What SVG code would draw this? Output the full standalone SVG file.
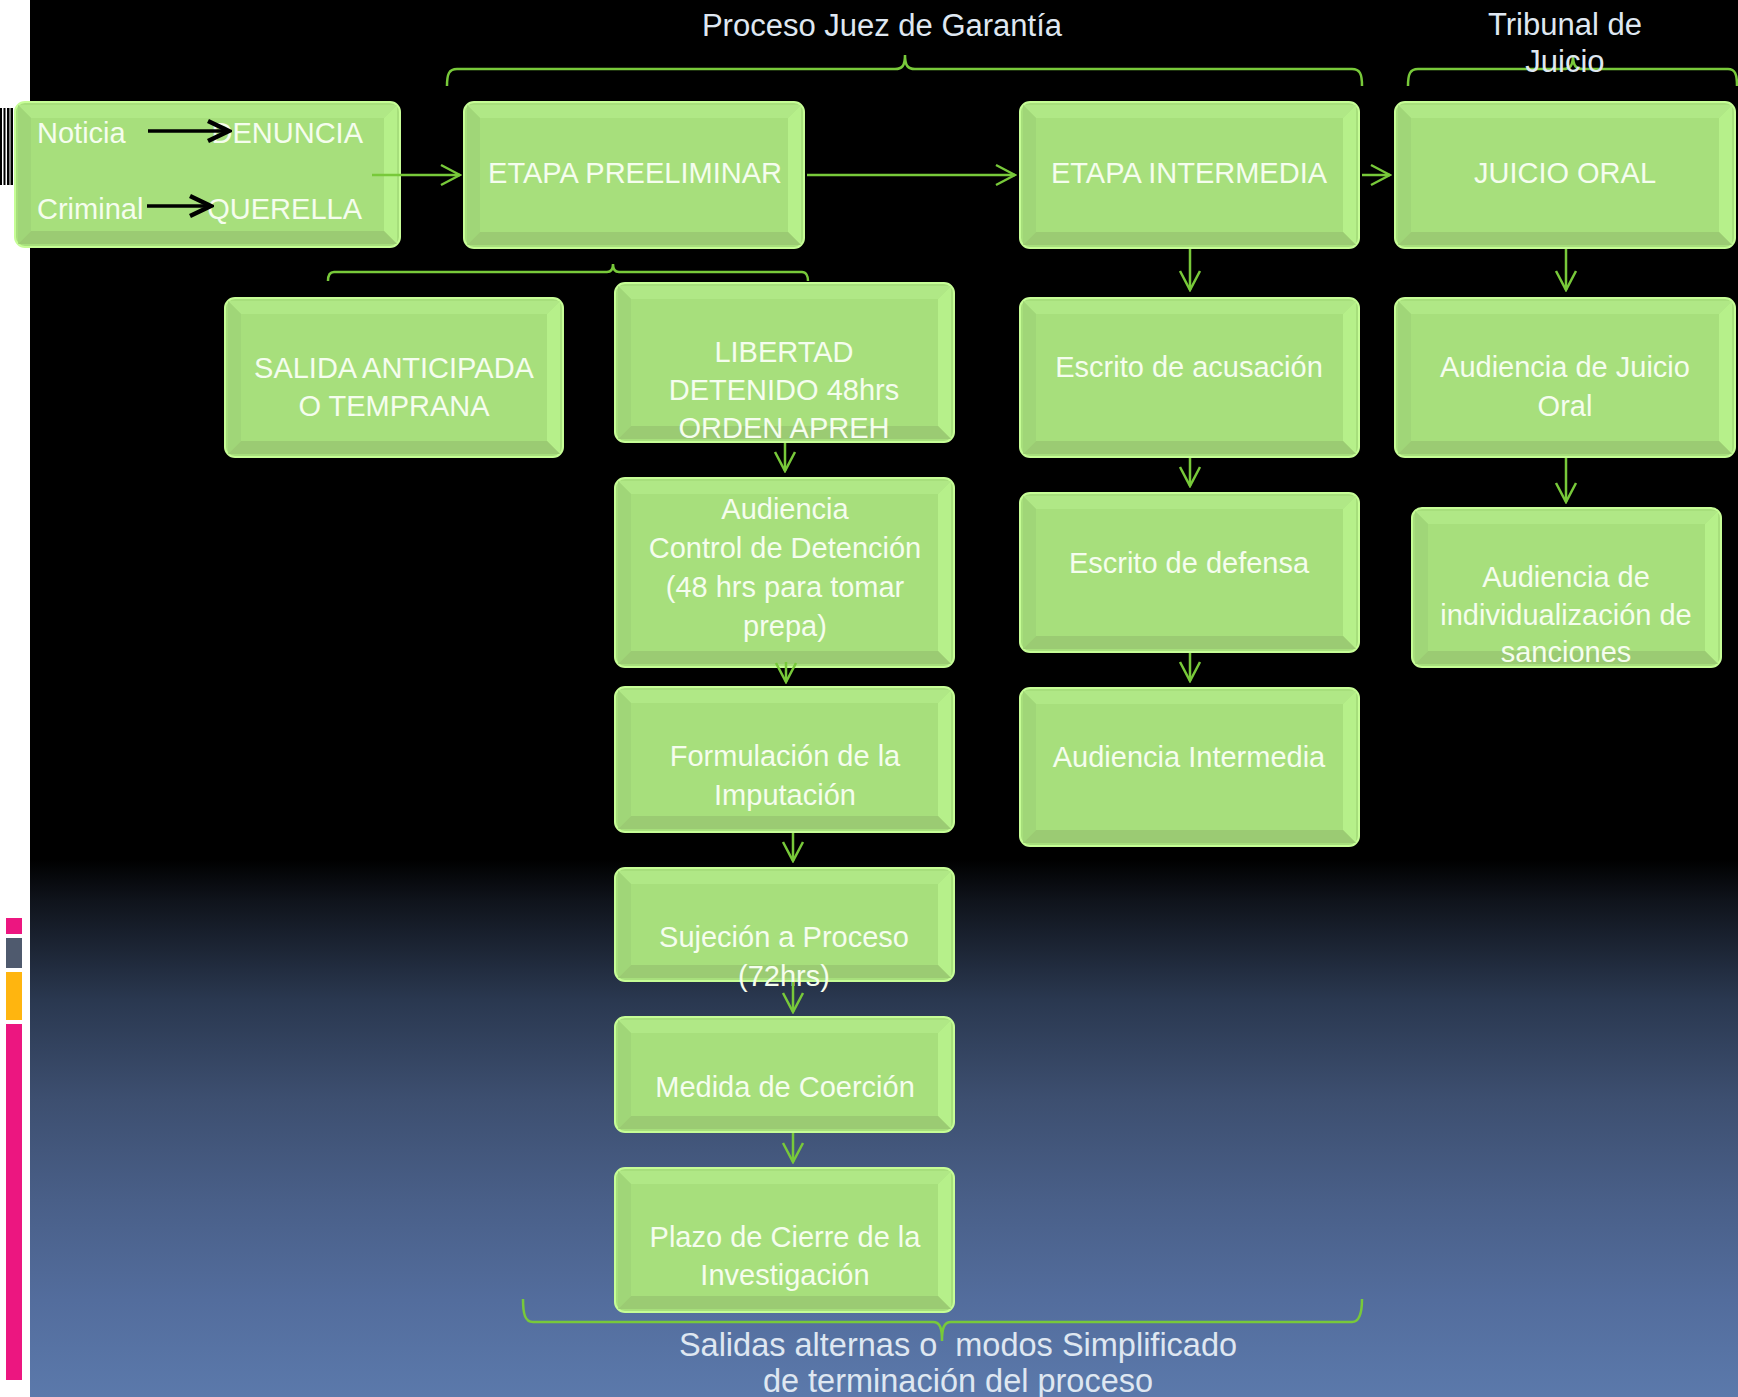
<svg xmlns="http://www.w3.org/2000/svg" width="1738" height="1397" viewBox="0 0 1738 1397">
<defs>
<linearGradient id="bg" x1="0" y1="0" x2="0" y2="1397" gradientUnits="userSpaceOnUse">
<stop offset="0" stop-color="#000"/>
<stop offset="0.615" stop-color="#000"/>
<stop offset="0.644" stop-color="#0f131b"/>
<stop offset="0.716" stop-color="#2a3850"/>
<stop offset="0.787" stop-color="#3d4f70"/>
<stop offset="0.859" stop-color="#495f88"/>
<stop offset="0.931" stop-color="#536d9d"/>
<stop offset="1" stop-color="#5b79ab"/>
</linearGradient>
<marker id="ah" markerUnits="userSpaceOnUse" viewBox="-22 -12 24 24" markerWidth="24" markerHeight="24" refX="0" refY="0" orient="auto">
<path d="M-19,-10 L0,0 L-19,10" fill="none" stroke="#78c93a" stroke-width="2.5"/>
</marker>
<marker id="bh" markerUnits="userSpaceOnUse" viewBox="-26 -14 28 28" markerWidth="28" markerHeight="28" refX="0" refY="0" orient="auto">
<path d="M-22,-10 L-1,0 L-22,10" fill="none" stroke="#000" stroke-width="4.5"/>
</marker>
<style>
.edge{fill:#a7df7c;stroke:#c6fd96;stroke-width:2}
.bt{fill:#b0e886}
.bl{fill:#a0d678}
.br{fill:#b6f08a}
.bb{fill:#9bcb73}
.t{font-family:"Liberation Sans",Arial,sans-serif;font-size:29px;fill:#f5fdee;text-anchor:middle}
.tl{text-anchor:start}
.te{text-anchor:end}
.title{font-family:"Liberation Sans",Arial,sans-serif;font-size:31px;fill:#dfe7f1;text-anchor:middle}
.big{font-size:32.5px}
.conn line{stroke:#78c93a;stroke-width:2.5;marker-end:url(#ah)}
.brace{fill:none;stroke:#78c93a;stroke-width:2.5}
.blk{stroke:#000;stroke-width:3.5;marker-end:url(#bh)}
</style>
</defs>

<rect x="0" y="0" width="1738" height="1397" fill="#fff"/>
<rect x="30" y="0" width="1708" height="1397" fill="url(#bg)"/>
<g id="sidebar">
<rect x="0" y="108" width="2" height="77" fill="#000"/>
<rect x="3.5" y="108" width="2" height="77" fill="#000"/>
<rect x="7" y="108" width="2.5" height="77" fill="#000"/>
<rect x="10.5" y="108" width="2.5" height="77" fill="#000"/>
<rect x="6" y="918" width="16" height="16" fill="#ec1680"/>
<rect x="6" y="938" width="16" height="30" fill="#4f5a6e"/>
<rect x="6" y="972" width="16" height="48" fill="#ffb50f"/>
<rect x="6" y="1024" width="16" height="356" fill="#ec1680"/>
</g>

<g id="braces">
<path class="brace" d="M447,86 C447,74 449,69 457,69 L895,69 C902,69 905,66 905,55 C905,66 908,69 915,69 L1352,69 C1360,69 1362,74 1362,86"/>
<path class="brace" d="M1408,86 C1408,74 1410,69 1418,69 L1563,69 C1570,69 1573,66 1573,55 C1573,66 1576,69 1583,69 L1728,69 C1735,69 1737,74 1737,86"/>
<path class="brace" d="M328,281 C328,276 329,272 334,272 L607,272 C611,272 613,270 613,264 C613,270 615,272 619,272 L802,272 C806,272 808,276 808,281"/>
<path class="brace" d="M523,1299 C523,1314 525,1322 533,1322 L933,1322 C940,1322 942,1328 942,1341 C942,1328 944,1322 951,1322 L1352,1322 C1359,1322 1362,1314 1362,1299"/>
</g>

<g id="labels">
<text class="title" x="882" y="36">Proceso Juez de Garantía</text>
<text class="title" x="1565" y="35">Tribunal de</text>
<text class="title" x="1565" y="72">Juicio</text>
<text class="title big" x="958" y="1356" xml:space="preserve">Salidas alternas o  modos Simplificado</text>
<text class="title big" x="958" y="1392">de terminación del proceso</text>
</g>

<g id="n1" transform="translate(14,101)">
<rect class="edge" x="1" y="1" width="385" height="145" rx="10"/>
<polygon class="bt" points="4,4 383,4 370,17 17,17"/>
<polygon class="bl" points="4,4 17,17 17,130 4,143"/>
<polygon class="br" points="383,4 370,17 370,130 383,143"/>
<polygon class="bb" points="4,143 383,143 370,130 17,130"/>
<text class="t tl" x="23" y="42">Noticia</text>
<text class="t te" x="349" y="42">DENUNCIA</text>
<text class="t tl" x="23" y="118">Criminal</text>
<text class="t te" x="348" y="118">QUERELLA</text>
<line class="blk" x1="134" y1="30" x2="216" y2="30"/>
<line class="blk" x1="133" y1="105" x2="198" y2="105"/>
</g>

<g id="n2" transform="translate(463,101)">
<rect class="edge" x="1" y="1" width="340" height="146" rx="10"/>
<polygon class="bt" points="4,4 338,4 325,17 17,17"/>
<polygon class="bl" points="4,4 17,17 17,131 4,144"/>
<polygon class="br" points="338,4 325,17 325,131 338,144"/>
<polygon class="bb" points="4,144 338,144 325,131 17,131"/>
<text class="t" x="172" y="82">ETAPA PREELIMINAR</text>
</g>

<g id="n3" transform="translate(1019,101)">
<rect class="edge" x="1" y="1" width="339" height="146" rx="10"/>
<polygon class="bt" points="4,4 337,4 324,17 17,17"/>
<polygon class="bl" points="4,4 17,17 17,131 4,144"/>
<polygon class="br" points="337,4 324,17 324,131 337,144"/>
<polygon class="bb" points="4,144 337,144 324,131 17,131"/>
<text class="t" x="170" y="82">ETAPA INTERMEDIA</text>
</g>

<g id="n4" transform="translate(1394,101)">
<rect class="edge" x="1" y="1" width="340" height="146" rx="10"/>
<polygon class="bt" points="4,4 338,4 325,17 17,17"/>
<polygon class="bl" points="4,4 17,17 17,131 4,144"/>
<polygon class="br" points="338,4 325,17 325,131 338,144"/>
<polygon class="bb" points="4,144 338,144 325,131 17,131"/>
<text class="t" x="171" y="82">JUICIO ORAL</text>
</g>

<g id="n5" transform="translate(224,297)">
<rect class="edge" x="1" y="1" width="338" height="159" rx="10"/>
<polygon class="bt" points="4,4 336,4 323,17 17,17"/>
<polygon class="bl" points="4,4 17,17 17,144 4,157"/>
<polygon class="br" points="336,4 323,17 323,144 336,157"/>
<polygon class="bb" points="4,157 336,157 323,144 17,144"/>
<text class="t" x="170" y="81">SALIDA ANTICIPADA</text>
<text class="t" x="170" y="119">O TEMPRANA</text>
</g>

<g id="n6" transform="translate(614,282)">
<rect class="edge" x="1" y="1" width="339" height="159" rx="10"/>
<polygon class="bt" points="4,4 337,4 324,17 17,17"/>
<polygon class="bl" points="4,4 17,17 17,144 4,157"/>
<polygon class="br" points="337,4 324,17 324,144 337,157"/>
<polygon class="bb" points="4,157 337,157 324,144 17,144"/>
<text class="t" x="170" y="80">LIBERTAD</text>
<text class="t" x="170" y="118">DETENIDO 48hrs</text>
<text class="t" x="170" y="156">ORDEN APREH</text>
</g>

<g id="n7" transform="translate(614,477)">
<rect class="edge" x="1" y="1" width="339" height="189" rx="10"/>
<polygon class="bt" points="4,4 337,4 324,17 17,17"/>
<polygon class="bl" points="4,4 17,17 17,174 4,187"/>
<polygon class="br" points="337,4 324,17 324,174 337,187"/>
<polygon class="bb" points="4,187 337,187 324,174 17,174"/>
<text class="t" x="171" y="42">Audiencia</text>
<text class="t" x="171" y="81">Control de Detención</text>
<text class="t" x="171" y="120">(48 hrs para tomar</text>
<text class="t" x="171" y="159">prepa)</text>
</g>

<g id="n8" transform="translate(614,686)">
<rect class="edge" x="1" y="1" width="339" height="145" rx="10"/>
<polygon class="bt" points="4,4 337,4 324,17 17,17"/>
<polygon class="bl" points="4,4 17,17 17,130 4,143"/>
<polygon class="br" points="337,4 324,17 324,130 337,143"/>
<polygon class="bb" points="4,143 337,143 324,130 17,130"/>
<text class="t" x="171" y="80">Formulación de la</text>
<text class="t" x="171" y="119">Imputación</text>
</g>

<g id="n9" transform="translate(614,867)">
<rect class="edge" x="1" y="1" width="339" height="113" rx="10"/>
<polygon class="bt" points="4,4 337,4 324,17 17,17"/>
<polygon class="bl" points="4,4 17,17 17,98 4,111"/>
<polygon class="br" points="337,4 324,17 324,98 337,111"/>
<polygon class="bb" points="4,111 337,111 324,98 17,98"/>
<text class="t" x="170" y="80">Sujeción a Proceso</text>
<text class="t" x="170" y="119">(72hrs)</text>
</g>

<g id="n10" transform="translate(614,1016)">
<rect class="edge" x="1" y="1" width="339" height="115" rx="10"/>
<polygon class="bt" points="4,4 337,4 324,17 17,17"/>
<polygon class="bl" points="4,4 17,17 17,100 4,113"/>
<polygon class="br" points="337,4 324,17 324,100 337,113"/>
<polygon class="bb" points="4,113 337,113 324,100 17,100"/>
<text class="t" x="171" y="81">Medida de Coerción</text>
</g>

<g id="n11" transform="translate(614,1167)">
<rect class="edge" x="1" y="1" width="339" height="144" rx="10"/>
<polygon class="bt" points="4,4 337,4 324,17 17,17"/>
<polygon class="bl" points="4,4 17,17 17,129 4,142"/>
<polygon class="br" points="337,4 324,17 324,129 337,142"/>
<polygon class="bb" points="4,142 337,142 324,129 17,129"/>
<text class="t" x="171" y="80">Plazo de Cierre de la</text>
<text class="t" x="171" y="118">Investigación</text>
</g>

<g id="n12" transform="translate(1019,297)">
<rect class="edge" x="1" y="1" width="339" height="159" rx="10"/>
<polygon class="bt" points="4,4 337,4 324,17 17,17"/>
<polygon class="bl" points="4,4 17,17 17,144 4,157"/>
<polygon class="br" points="337,4 324,17 324,144 337,157"/>
<polygon class="bb" points="4,157 337,157 324,144 17,144"/>
<text class="t" x="170" y="80">Escrito de acusación</text>
</g>

<g id="n13" transform="translate(1019,492)">
<rect class="edge" x="1" y="1" width="339" height="159" rx="10"/>
<polygon class="bt" points="4,4 337,4 324,17 17,17"/>
<polygon class="bl" points="4,4 17,17 17,144 4,157"/>
<polygon class="br" points="337,4 324,17 324,144 337,157"/>
<polygon class="bb" points="4,157 337,157 324,144 17,144"/>
<text class="t" x="170" y="81">Escrito de defensa</text>
</g>

<g id="n14" transform="translate(1019,687)">
<rect class="edge" x="1" y="1" width="339" height="158" rx="10"/>
<polygon class="bt" points="4,4 337,4 324,17 17,17"/>
<polygon class="bl" points="4,4 17,17 17,143 4,156"/>
<polygon class="br" points="337,4 324,17 324,143 337,156"/>
<polygon class="bb" points="4,156 337,156 324,143 17,143"/>
<text class="t" x="170" y="80">Audiencia Intermedia</text>
</g>

<g id="n15" transform="translate(1394,297)">
<rect class="edge" x="1" y="1" width="340" height="159" rx="10"/>
<polygon class="bt" points="4,4 338,4 325,17 17,17"/>
<polygon class="bl" points="4,4 17,17 17,144 4,157"/>
<polygon class="br" points="338,4 325,17 325,144 338,157"/>
<polygon class="bb" points="4,157 338,157 325,144 17,144"/>
<text class="t" x="171" y="80">Audiencia de Juicio</text>
<text class="t" x="171" y="119">Oral</text>
</g>

<g id="n16" transform="translate(1411,507)">
<rect class="edge" x="1" y="1" width="309" height="159" rx="10"/>
<polygon class="bt" points="4,4 307,4 294,17 17,17"/>
<polygon class="bl" points="4,4 17,17 17,144 4,157"/>
<polygon class="br" points="307,4 294,17 294,144 307,157"/>
<polygon class="bb" points="4,157 307,157 294,144 17,144"/>
<text class="t" x="155" y="80">Audiencia de</text>
<text class="t" x="155" y="118">individualización de</text>
<text class="t" x="155" y="155">sanciones</text>
</g>

<g id="connectors" class="conn">
<line id="c1" x1="372" y1="175" x2="460" y2="175"/>
<line id="c2" x1="807" y1="175" x2="1015" y2="175"/>
<line id="c3" x1="1362" y1="175" x2="1390" y2="175"/>
<line id="c4" x1="1190" y1="249" x2="1190" y2="290"/>
<line id="c5" x1="1190" y1="458" x2="1190" y2="486"/>
<line id="c6" x1="1190" y1="653" x2="1190" y2="681"/>
<line id="c7" x1="1566" y1="249" x2="1566" y2="290"/>
<line id="c8" x1="1566" y1="458" x2="1566" y2="502"/>
<line id="c9" x1="785" y1="443" x2="785" y2="471"/>
<line id="c10" x1="786" y1="662" x2="786" y2="682"/>
<line id="c11" x1="793" y1="833" x2="793" y2="861"/>
<line id="c12" x1="793" y1="982" x2="793" y2="1012"/>
<line id="c13" x1="793" y1="1133" x2="793" y2="1162"/>
</g>
</svg>
